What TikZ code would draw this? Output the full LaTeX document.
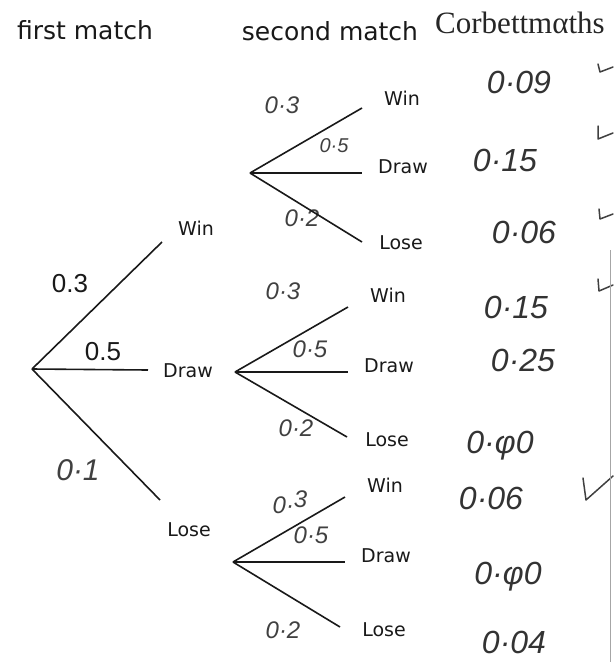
\documentclass[tikz,border=0pt]{standalone}
\usepackage{fontspec}
\newfontfamily\labelfont{DejaVu Sans}
\newfontfamily\printfont{Liberation Sans}
\newfontfamily\brandfont{Liberation Serif}
\usetikzlibrary{positioning}
\tikzstyle{heading} = [font=\labelfont\fontsize{25}{28}\selectfont, anchor=base, inner sep=0pt, text=black!90]
\tikzstyle{brand} = [font=\brandfont\fontsize{31}{34}\selectfont, anchor=base, inner sep=0pt, text=black!85]
\tikzstyle{outcome} = [font=\labelfont\fontsize{19}{21}\selectfont, inner sep=0pt, text=black!90]
\tikzstyle{printed} = [font=\printfont\fontsize{26}{28}\selectfont, inner sep=0pt, text=black!90]
\tikzstyle{hand} = [font=\printfont\itshape\fontsize{24}{26}\selectfont, inner sep=0pt, text=black!75]
\tikzstyle{answer} = [font=\printfont\itshape\fontsize{32}{35}\selectfont, inner sep=0pt, text=black!80]
\tikzstyle{branch} = [line width=1.6pt, draw=black!90]
\tikzstyle{checkmark} = [line width=1.5pt, draw=black!75, line cap=round, line join=round]

\begin{document}
\begin{tikzpicture}[x=1pt, y=-1pt]
\useasboundingbox (0,0) rectangle (614,662);

\node (first) [heading] at (85,39) {first match};
\node (second) [heading] at (330,40) {second match};
\node (corbett) [brand] at (520,33) {Corbettmαths};

% first match
\coordinate (s) at (32,369);
\coordinate (s-w) at (162,242);
\coordinate (s-d) at (148,370);
\coordinate (s-l) at (160,500);
\node (win) [outcome] at (196,228) {Win};
\node (draw) [outcome] at (188,371) {Draw};
\node (lose) [outcome] at (189,530) {Lose};
\node (p-win) [printed] at (70,284) {0.3};
\node (p-draw) [printed] at (103,352) {0.5};
\node (p-lose) [hand, font=\printfont\itshape\fontsize{30}{32}\selectfont] at (78,470) {0·1};

% second match after a win
\coordinate (w) at (250,173);
\coordinate (w-w) at (362,108);
\coordinate (w-d) at (362,173);
\coordinate (w-l) at (362,242);
\node (ww) [outcome] at (402,98) {Win};
\node (wd) [outcome] at (403,167) {Draw};
\node (wl) [outcome] at (401,243) {Lose};
\node (p-ww) [hand] at (282,105) {0·3};
\node (p-wd) [hand, font=\printfont\itshape\fontsize{20}{22}\selectfont] at (334,146) {0·5};
\node (p-wl) [hand] at (302,218) {0·2};
\node (a-ww) [answer] at (519,82) {0·09};
\node (a-wd) [answer] at (505,160) {0·15};
\node (a-wl) [answer] at (524,232) {0·06};

% second match after a draw
\coordinate (d) at (235,372);
\coordinate (d-w) at (348,307);
\coordinate (d-d) at (348,372);
\coordinate (d-l) at (347,437);
\node (dw) [outcome] at (388,295) {Win};
\node (dd) [outcome] at (389,366) {Draw};
\node (dl) [outcome] at (387,440) {Lose};
\node (p-dw) [hand] at (283,291) {0·3};
\node (p-dd) [hand] at (310,349) {0·5};
\node (p-dl) [hand] at (296,428) {0·2};
\node (a-dw) [answer] at (516,307) {0·15};
\node (a-dd) [answer] at (523,360) {0·25};
\node (a-dl) [answer] at (500,446) {0·φ0};

% second match after a loss
\coordinate (l) at (233,562);
\coordinate (l-w) at (345,497);
\coordinate (l-d) at (345,562);
\coordinate (l-l) at (340,627);
\node (lw) [outcome] at (385,485) {Win};
\node (ld) [outcome] at (386,556) {Draw};
\node (ll) [outcome] at (384,630) {Lose};
\node (p-lw) [hand] at (290,502) {0·\raisebox{6pt}{3}};
\node (p-ld) [hand] at (311,535) {0·5};
\node (p-ll) [hand] at (283,630) {0·2};
\node (a-lw) [answer] at (491,498) {0·06};
\node (a-ld) [answer] at (508,577) {0·φ0};
\node (a-ll) [answer] at (514,642) {0·04};

\foreach \r in {s,w,d,l}
  \foreach \e in {w,d,l}
    \draw [branch] (\r) -- (\r-\e);

\draw [checkmark] (598,64) -- (600,72) -- (613,67);
\draw [checkmark] (598,126) -- (598,139) -- (613,133);
\draw [checkmark] (599,209) -- (600,219) -- (613,214);
\draw [checkmark] (598,279) -- (599,291) -- (613,285);
\draw [checkmark] (583,478) -- (586,500) -- (613,476);
\draw [black!35, line width=0.8pt] (610,250) -- (610,662);
\end{tikzpicture}
\end{document}
